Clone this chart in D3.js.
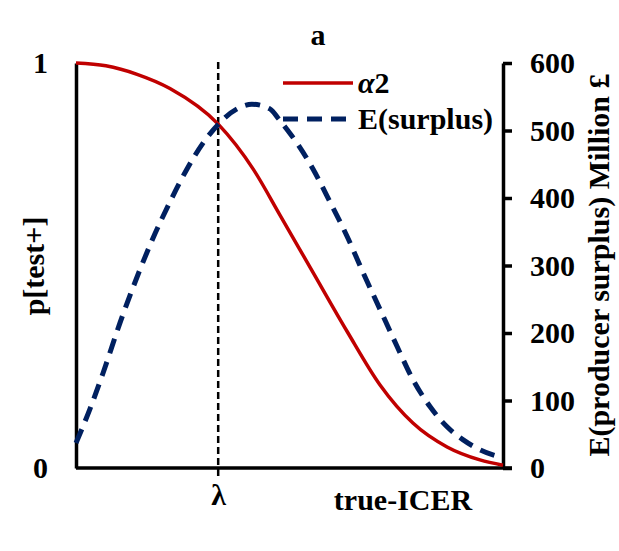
<!DOCTYPE html>
<html>
<head>
<meta charset="utf-8">
<script src="https://cdn.jsdelivr.net/npm/d3@7"></script>
<style>
  body { margin: 0; background: #fff; }
  svg text { font-family: "Liberation Serif", "DejaVu Serif", "Times New Roman", serif; font-weight: bold; }
</style>
</head>
<body>
<svg class="chart" width="619" height="551"></svg>
<script>
// data (x is true-ICER, 0..1 across the plot)
const alphaX = [0, 0.07, 0.143, 0.22, 0.333, 0.415, 0.478, 0.555, 0.635, 0.712, 0.789, 0.869, 0.946, 1.0];
const alphaY = [1.0, 0.993, 0.972, 0.937, 0.849, 0.738, 0.624, 0.483, 0.337, 0.205, 0.111, 0.052, 0.02, 0.007];

const surplusX = [0, 0.033, 0.063, 0.103, 0.143, 0.18, 0.22, 0.26, 0.297, 0.333, 0.377, 0.412, 0.454, 0.475,
                  0.496, 0.518, 0.555, 0.595, 0.635, 0.672, 0.712, 0.752, 0.789, 0.829, 0.869, 0.906, 0.946, 1.0];
const surplusY = [37, 88, 140, 215, 283, 340, 394, 443, 481, 509, 532, 539, 532, 517,
                  500, 481, 443, 394, 343, 290, 235, 180, 131, 91, 61, 42, 27, 15];

const lambda = 0.333;
const leftTicks = [0, 1];
const rightTicks = [0, 100, 200, 300, 400, 500, 600];

const svg = d3.select('.chart');

const margin = { top: 63, right: 116, bottom: 83, left: 76 };
const width = +svg.attr('width');
const height = +svg.attr('height');
const innerWidth = width - margin.left - margin.right;
const innerHeight = height - margin.top - margin.bottom;

const xScale = d3.scaleLinear().domain([0, 1]).range([0, innerWidth]);
const yLeft = d3.scaleLinear().domain([0, 1]).range([innerHeight, 0]);
const yRight = d3.scaleLinear().domain([0, 600]).range([innerHeight, 0]);

const g = svg.append('g')
    .attr('transform', `translate(${margin.left}, ${margin.top})`);

// lambda marker
g.append('line')
    .attr('x1', xScale(lambda)).attr('x2', xScale(lambda))
    .attr('y1', -1).attr('y2', innerHeight + 10)
    .attr('stroke', '#000')
    .attr('stroke-width', 2.5)
    .attr('stroke-dasharray', '7,4');

// left axis
const leftG = g.append('g')
    .call(d3.axisLeft(yLeft).tickValues(leftTicks).tickFormat(d3.format('d'))
        .tickSize(0).tickSizeOuter(0).tickPadding(28));

// right axis
const rightG = g.append('g')
    .attr('transform', `translate(${innerWidth}, 0)`)
    .call(d3.axisRight(yRight).tickValues(rightTicks)
        .tickSize(9).tickSizeOuter(0).tickPadding(18));

// bottom axis
const bottomG = g.append('g')
    .attr('transform', `translate(0, ${innerHeight})`)
    .call(d3.axisBottom(xScale).tickValues([lambda]).tickFormat(() => 'λ')
        .tickSize(0).tickSizeOuter(0).tickPadding(16));

[leftG, rightG, bottomG].forEach(a => {
    a.attr('font-family', null).attr('font-size', null);
    a.select('.domain').attr('stroke-width', 3.5);
    a.selectAll('.tick line').attr('stroke-width', 3.5);
    a.selectAll('.tick text').style('font-size', '30px').attr('fill', '#000');
});
bottomG.select('.domain').attr('d', `M0,0H${innerWidth + 9}`);

// curves
const alphaLine = d3.line()
    .x((d, i) => xScale(alphaX[i]))
    .y(d => yLeft(d))
    .curve(d3.curveMonotoneX);

const surplusLine = d3.line()
    .x((d, i) => xScale(surplusX[i]))
    .y(d => yRight(d))
    .curve(d3.curveMonotoneX);

g.append('path')
    .datum(alphaY)
    .attr('d', alphaLine)
    .attr('fill', 'none')
    .attr('stroke', '#c00000')
    .attr('stroke-width', 3.5);

g.append('path')
    .datum(surplusY)
    .attr('d', surplusLine)
    .attr('fill', 'none')
    .attr('stroke', '#002060')
    .attr('stroke-width', 5)
    .attr('stroke-dasharray', '15,9');

// titles
svg.append('text')
    .attr('x', 318).attr('y', 45)
    .attr('text-anchor', 'middle')
    .style('font-size', '30px')
    .text('a');

svg.append('text')
    .attr('x', 403).attr('y', 510)
    .attr('text-anchor', 'middle')
    .style('font-size', '30px')
    .text('true-ICER');

svg.append('text')
    .attr('transform', 'translate(44, 266) rotate(-90)')
    .attr('text-anchor', 'middle')
    .style('font-size', '30px')
    .text('p[test+]');

svg.append('text')
    .attr('transform', 'translate(609, 265) rotate(-90)')
    .attr('text-anchor', 'middle')
    .style('font-size', '30px')
    .text('E(producer surplus) Million £');

// legend
const legend = svg.append('g').attr('transform', 'translate(283, 83)');
legend.append('line')
    .attr('x1', 0).attr('x2', 70).attr('y1', 0).attr('y2', 0)
    .attr('stroke', '#c00000').attr('stroke-width', 3.5);
const aText = legend.append('text')
    .attr('x', 75).attr('y', 10)
    .style('font-size', '30px');
aText.append('tspan').style('font-style', 'italic').text('α');
aText.append('tspan').text('2');

legend.append('line')
    .attr('x1', 0).attr('x2', 70).attr('y1', 36).attr('y2', 36)
    .attr('stroke', '#002060').attr('stroke-width', 5)
    .attr('stroke-dasharray', '15,9');
legend.append('text')
    .attr('x', 75).attr('y', 46)
    .style('font-size', '30px')
    .text('E(surplus)');
</script>
</body>
</html>
